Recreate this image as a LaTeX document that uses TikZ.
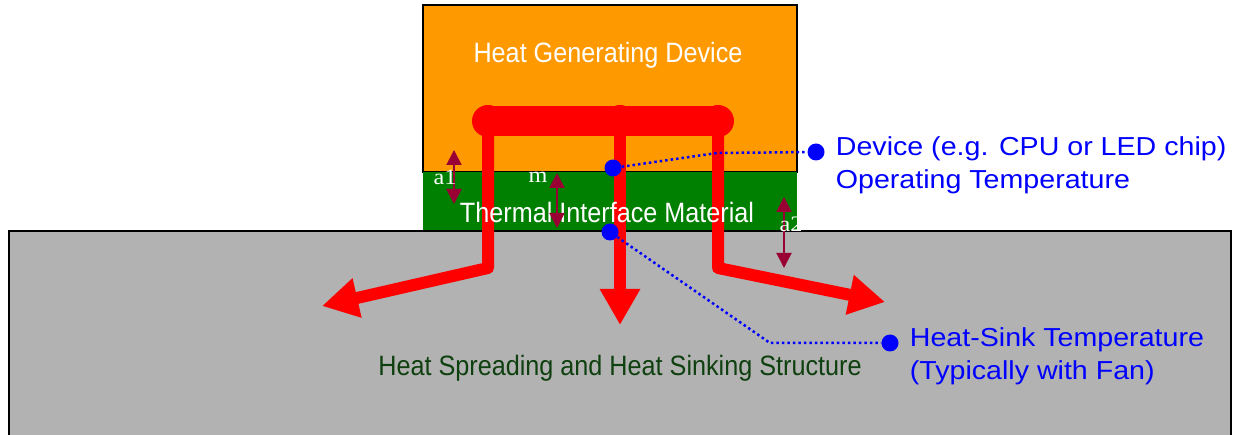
\documentclass[tikz,border=0pt]{standalone}
\usepackage{fontspec}
\setmainfont{Liberation Sans}
\newfontfamily\wideface{Liberation Sans}[FakeStretch=1.1]
\newfontfamily\narrowface{Liberation Sans}[FakeStretch=0.9]
\newfontfamily\serifface{Liberation Serif}[FakeStretch=1.1]
\usetikzlibrary{arrows.meta, positioning}
\definecolor{devorange}  {RGB}{255, 153, 0}
\definecolor{timgreen}   {RGB}{0, 128, 0}
\definecolor{sinkgray}   {RGB}{178, 178, 178}
\definecolor{sinktext}   {RGB}{15, 64, 15}
\definecolor{gapred}     {RGB}{153, 0, 51}

\tikzset{
    heatflow/.style={draw=red, line width=12pt, line join=round, -{Triangle[length=36pt, width=38pt]}},
    gaparrow/.style={draw=gapred, line width=2pt, {Triangle[length=15pt, width=15pt]}-{Triangle[length=15pt, width=15pt]}},
    gaplabel/.style={text=white, inner sep=0pt, font=\serifface\fontsize{22}{22}\selectfont},
    blocklabel/.style={inner sep=0pt, font=\narrowface\fontsize{28}{30}\selectfont},
    probe/.style={circle, fill=blue, minimum size=17pt, inner sep=0pt},
    probeline/.style={draw=blue, line width=2.5pt, dash pattern=on 2.5pt off 3pt},
    probelabel/.style={text=blue, align=left, inner sep=0pt, font=\wideface\fontsize{26}{33}\selectfont}
}

\begin{document}
\begin{tikzpicture}[x=1pt, y=-1pt]
        \clip (0,0) rectangle (1242,435);
        % device, interface and heat sink
        \draw[fill=devorange, line width=2.5pt] (423,5) rectangle (797,172);
        \fill[timgreen] (423,172) rectangle (797,231);
        \draw[fill=sinkgray, line width=2pt] (9,231) rectangle (1231,460);

        % heat paths
        \foreach \name/\x in {l/488, c/620, r/718}
        {
            \coordinate (top\name) at (\x,121);
            \fill[red] (top\name) circle (16pt);
        }
        \coordinate (bendl) at (488,268);
        \coordinate (bendr) at (718,268);
        \coordinate (tipl) at (322,306);
        \coordinate (tipc) at (620,325);
        \coordinate (tipr) at (885,302);
        \draw[red, line width=30pt, line cap=round] (topl) -- (topr);
        \draw[heatflow] (topl) -- (bendl) -- (tipl);
        \draw[heatflow] (topc) -- (tipc);
        \draw[heatflow] (topr) -- (bendr) -- (tipr);

        \node[blocklabel, text=white] (device) at (608,55) {Heat Generating Device};
        \node[blocklabel, text=white] (tim) at (607,212) {Thermal Interface Material};
        \node[blocklabel, text=sinktext] (sink) at (620,368) {Heat Spreading and Heat Sinking Structure};

        % gaps
        \foreach \name/\x/\ya/\yb/\lx/\ly in {a1/454/150/204/445/177, m/557/173/228/538/177, a2/784/197/268/791/224}
        {
            \coordinate (\name up) at (\x,\ya);
            \coordinate (\name down) at (\x,\yb);
            \draw[gaparrow] (\name up) -- (\name down);
            \node[gaplabel] (\name) at (\lx,\ly) {\name};
        }

        % temperature probes
        \node[probe] (pdev) at (613,168) {};
        \node[probe] (psink) at (610,232) {};
        \node[probe] (tdev) at (816,152) {};
        \node[probe] (tsink) at (890,343) {};
        \coordinate (kneedev) at (717,153);
        \coordinate (kneesink) at (770,343);
        \draw[probeline] (pdev) -- (kneedev) -- (tdev);
        \draw[probeline] (psink) -- (kneesink) -- (tsink);
        \node[probelabel, right=11pt of tdev, yshift=-13pt] (devtemp) {Device (e.g. CPU or LED chip)\\Operating Temperature};
        \node[probelabel, right=11pt of tsink, yshift=-13pt] (sinktemp) {Heat-Sink Temperature\\(Typically with Fan)};
\end{tikzpicture}
\end{document}
